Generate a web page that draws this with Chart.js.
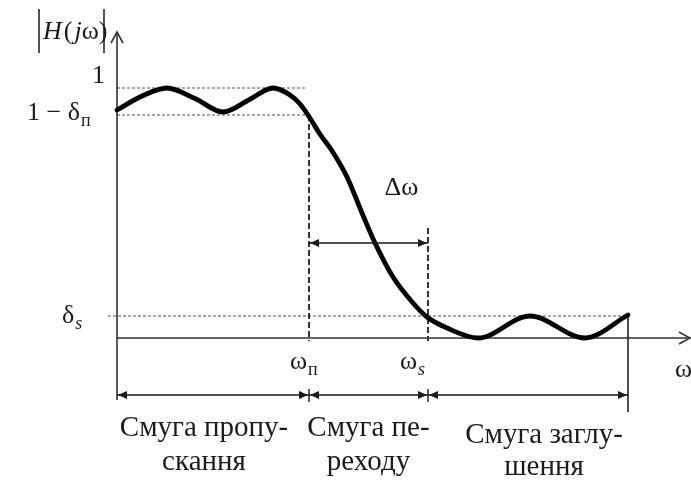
<!DOCTYPE html>
<html>
<head>
<meta charset="utf-8">
<script src="https://cdn.jsdelivr.net/npm/chart.js@4.4.1/dist/chart.umd.min.js"></script>
<style>
  html, body { margin: 0; padding: 0; background: #fff; }
  #chart { display: block; }
</style>
</head>
<body>
<canvas id="chart" width="691" height="480"></canvas>
<script>
// frequency response |H(jw)|
const omega = [0, 0.25, 0.5, 0.78, 1.06, 1.33, 1.56, 1.73, 1.83, 1.91, 2.03, 2.14, 2.30, 2.45, 2.58, 2.76, 2.96, 3.10, 3.30, 3.61, 4.13, 4.68, 5.11];
const magnitude = [0.912, 0.968, 1.0, 0.958, 0.904, 0.955, 1.0, 0.972, 0.936, 0.892, 0.815, 0.755, 0.644, 0.50, 0.38, 0.244, 0.14, 0.084, 0.04, 0, 0.088, 0, 0.092];

// band edges and tolerance levels
const passEdge = 1.92;     // ωп
const stopEdge = 3.11;     // ωs
const freqEnd = 5.11;
const passRipple = 0.892;  // 1 − δп
const stopLevel = 0.088;   // δs

const bandLabels = [
  ['Смуга пропу-', 'скання'],
  ['Смуга пе-', 'реходу'],
  ['Смуга заглу-', 'шення']
];

const SERIF = '"Liberation Serif", "DejaVu Serif", serif';
const INK = '#1a1a1a';

function arrowHead(ctx, x, y, dir, size) {
  // small filled head pointing left (dir=-1) or right (dir=1)
  ctx.beginPath();
  ctx.moveTo(x, y);
  ctx.lineTo(x - dir * size, y - size * 0.45);
  ctx.lineTo(x - dir * size, y + size * 0.45);
  ctx.closePath();
  ctx.fill();
}

function hArrow(ctx, x1, x2, y) {
  ctx.beginPath();
  ctx.moveTo(x1, y);
  ctx.lineTo(x2, y);
  ctx.stroke();
  arrowHead(ctx, x1 + 1, y, -1, 9);
  arrowHead(ctx, x2 - 1, y, 1, 9);
}

function subText(ctx, main, sub, x, y, size, italicSub) {
  // draws main text with a lowered subscript, starting at x
  ctx.textAlign = 'left';
  ctx.textBaseline = 'middle';
  ctx.font = size + 'px ' + SERIF;
  ctx.fillText(main, x, y);
  const w = ctx.measureText(main).width;
  ctx.font = (italicSub ? 'italic ' : '') + Math.round(size * 0.68) + 'px ' + SERIF;
  ctx.fillText(sub, x + w + 1, y + size * 0.3);
}

const diagram = {
  id: 'diagram',
  beforeDatasetsDraw(chart) {
    const ctx = chart.ctx;
    const X = v => chart.scales.x.getPixelForValue(v);
    const Y = v => chart.scales.y.getPixelForValue(v);
    ctx.save();

    // fine dotted tolerance levels
    ctx.strokeStyle = '#555';
    ctx.lineWidth = 1;
    ctx.setLineDash([3, 2]);
    ctx.beginPath();
    ctx.moveTo(X(0), Y(1)); ctx.lineTo(X(passEdge) - 2, Y(1));
    ctx.moveTo(X(0), Y(passRipple)); ctx.lineTo(X(passEdge), Y(passRipple));
    ctx.moveTo(X(0) - 9, Y(stopLevel)); ctx.lineTo(X(freqEnd), Y(stopLevel));
    ctx.stroke();

    // dashed band edges
    ctx.strokeStyle = '#111';
    ctx.lineWidth = 1.7;
    ctx.setLineDash([6, 3]);
    ctx.beginPath();
    ctx.moveTo(X(passEdge), Y(passRipple)); ctx.lineTo(X(passEdge), Y(0) + 3);
    ctx.moveTo(X(stopEdge), Y(0.44)); ctx.lineTo(X(stopEdge), Y(0) + 3);
    ctx.stroke();
    ctx.setLineDash([]);

    // axes
    ctx.strokeStyle = '#333';
    ctx.lineWidth = 1.6;
    ctx.beginPath();
    ctx.moveTo(X(0), Y(0) + 62); ctx.lineTo(X(0), Y(1) - 55);
    ctx.moveTo(X(0), Y(0)); ctx.lineTo(chart.width, Y(0));
    ctx.stroke();
    ctx.beginPath();
    ctx.moveTo(X(0) - 6, Y(1) - 45); ctx.lineTo(X(0), Y(1) - 56); ctx.lineTo(X(0) + 6, Y(1) - 45);
    ctx.moveTo(chart.width - 12, Y(0) - 6); ctx.lineTo(chart.width - 1, Y(0)); ctx.lineTo(chart.width - 12, Y(0) + 6);
    ctx.stroke();

    // end of stopband marker
    ctx.strokeStyle = '#222';
    ctx.beginPath();
    ctx.moveTo(X(freqEnd), Y(stopLevel)); ctx.lineTo(X(freqEnd), Y(0) + 74);
    ctx.stroke();
    ctx.restore();
  },
  afterDatasetsDraw(chart) {
    const ctx = chart.ctx;
    const X = v => chart.scales.x.getPixelForValue(v);
    const Y = v => chart.scales.y.getPixelForValue(v);
    ctx.save();
    ctx.fillStyle = INK;
    ctx.strokeStyle = INK;
    ctx.lineWidth = 1.4;

    // transition width arrow
    hArrow(ctx, X(passEdge), X(stopEdge), Y(0.38));

    // band brackets below the axis
    const by = Y(0) + 57;
    hArrow(ctx, X(0), X(passEdge), by);
    hArrow(ctx, X(passEdge), X(stopEdge), by);
    hArrow(ctx, X(stopEdge), X(freqEnd), by);
    ctx.beginPath();
    ctx.moveTo(X(passEdge), by - 6); ctx.lineTo(X(passEdge), by + 7);
    ctx.moveTo(X(stopEdge), by - 6); ctx.lineTo(X(stopEdge), by + 7);
    ctx.stroke();

    // |H(jω)| with magnitude bars
    ctx.lineWidth = 1.5;
    ctx.beginPath();
    ctx.moveTo(39, 9); ctx.lineTo(39, 53);
    ctx.moveTo(104, 9); ctx.lineTo(104, 53);
    ctx.stroke();
    ctx.textBaseline = 'middle';
    ctx.textAlign = 'left';
    ctx.font = 'italic 26px ' + SERIF;
    ctx.fillText('H', 43, 32);
    let px = 43 + ctx.measureText('H').width + 2;
    ctx.font = '26px ' + SERIF;
    ctx.fillText('(', px, 32);
    px += ctx.measureText('(').width + 2;
    ctx.font = 'italic 26px ' + SERIF;
    ctx.fillText('j', px, 32);
    px += ctx.measureText('j').width;
    ctx.font = '26px ' + SERIF;
    ctx.fillText('ω)', px, 32);

    // level labels
    ctx.textAlign = 'right';
    ctx.font = '26px ' + SERIF;
    ctx.fillText('1', X(0) - 12, Y(1) - 12);
    subText(ctx, '1 − δ', 'п', 27, Y(passRipple) - 2, 26, false);
    subText(ctx, 'δ', 's', 62, Y(stopLevel), 26, true);

    // frequency labels
    subText(ctx, 'ω', 'п', X(passEdge) - 19, Y(0) + 24, 26, false);
    subText(ctx, 'ω', 's', X(stopEdge) - 28, Y(0) + 24, 26, true);
    ctx.textAlign = 'left';
    ctx.font = '26px ' + SERIF;
    ctx.fillText('ω', chart.width - 16, Y(0) + 32);
    ctx.textAlign = 'center';
    ctx.fillText('Δω', (X(passEdge) + X(stopEdge)) / 2 + 33, Y(0.6));

    // band names centred under each bracket
    const edges = [0, passEdge, stopEdge, freqEnd];
    const shift = [-9, 0, 16];
    ctx.font = '29px ' + SERIF;
    bandLabels.forEach((lines, i) => {
      const cx = (X(edges[i]) + X(edges[i + 1])) / 2 + shift[i];
      ctx.fillText(lines[0], cx, Y(0) + 90 + (i === 2 ? 7 : 0));
      ctx.fillText(lines[1], cx, Y(0) + 124 + (i === 2 ? 5 : 0));
    });
    ctx.restore();
  }
};

new Chart(document.getElementById('chart'), {
  type: 'line',
  data: {
    datasets: [{
      data: omega.map((w, i) => ({ x: w, y: magnitude[i] })),
      borderColor: '#000',
      borderWidth: 4.8,
      pointRadius: 0,
      cubicInterpolationMode: 'monotone',
      borderCapStyle: 'round',
      borderJoinStyle: 'round'
    }]
  },
  options: {
    responsive: false,
    animation: false,
    events: [],
    layout: { padding: 0 },
    plugins: { legend: { display: false }, tooltip: { enabled: false } },
    scales: {
      x: { type: 'linear', display: false, min: -1.17, max: 5.74 },
      y: { type: 'linear', display: false, min: -0.568, max: 1.352 }
    }
  },
  plugins: [diagram]
});
</script>
</body>
</html>
